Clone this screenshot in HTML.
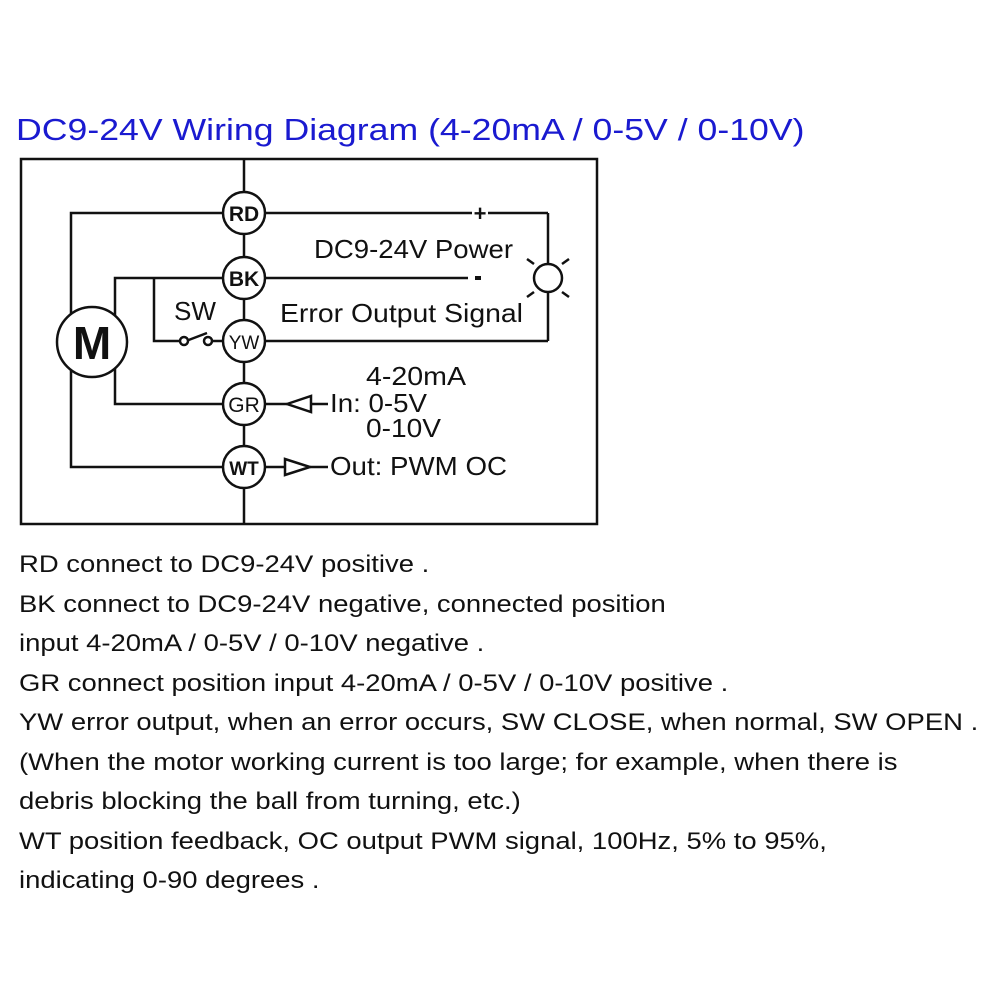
<!DOCTYPE html>
<html><head><style>
body{margin:0;background:#fff;width:1000px;height:1000px;position:relative;overflow:hidden;font-family:"Liberation Sans","DejaVu Sans",sans-serif}
.t{position:absolute;left:16px;top:112px;font-size:31px;color:#1a1ad0;white-space:nowrap;transform:scaleX(1.15);transform-origin:0 0}
.b{position:absolute;left:19px;top:545px;font-size:24.5px;line-height:39.5px;color:#111;white-space:nowrap;transform:scaleX(1.12);transform-origin:0 0}
</style></head><body>
<div class="t">DC9-24V Wiring Diagram (4-20mA / 0-5V / 0-10V)</div>
<svg width="1000" height="1000" style="position:absolute;left:0;top:0" font-family="Liberation Sans, DejaVu Sans, sans-serif">
<g stroke="#111" stroke-width="2.5" fill="none">
<rect x="21" y="159" width="576" height="365"/>
<line x1="244" y1="159" x2="244" y2="524"/>
<polyline points="223,213 71,213 71,467 223,467"/>
<polyline points="223,278 115,278 115,404 223,404"/>
<polyline points="154,278 154,341 180,341"/>
<line x1="186" y1="341" x2="207" y2="333"/>
<line x1="212" y1="341" x2="223" y2="341"/>
<circle cx="184" cy="341" r="4" fill="#fff"/>
<circle cx="208" cy="341" r="4" fill="#fff"/>
<line x1="265" y1="213" x2="472" y2="213"/>
<line x1="488" y1="213" x2="548" y2="213"/>
<line x1="265" y1="278" x2="468" y2="278"/>
<line x1="265" y1="341" x2="548" y2="341"/>
<line x1="548" y1="213" x2="548" y2="264"/>
<line x1="548" y1="292" x2="548" y2="341"/>
<circle cx="548" cy="278" r="14" fill="#fff"/>
<line x1="534" y1="264" x2="527" y2="259"/><line x1="562" y1="264" x2="569" y2="259"/>
<line x1="534" y1="292" x2="527" y2="297"/><line x1="562" y1="292" x2="569" y2="297"/>
<line x1="265" y1="404" x2="287" y2="404"/>
<polygon points="287,404 311,396 311,412"/>
<line x1="311" y1="404" x2="328" y2="404"/>
<line x1="265" y1="467" x2="285" y2="467"/>
<polygon points="285,459 285,475 310,467"/>
<line x1="310" y1="467" x2="328" y2="467"/>
<circle cx="92" cy="342" r="35" fill="#fff"/>
<circle cx="244" cy="213" r="21" fill="#fff"/>
<circle cx="244" cy="278" r="21" fill="#fff"/>
<circle cx="244" cy="341" r="21" fill="#fff"/>
<circle cx="244" cy="404" r="21" fill="#fff"/>
<circle cx="244" cy="467" r="21" fill="#fff"/>
</g>
<g fill="#111" font-size="21" text-anchor="middle">
<text x="244" y="221" font-weight="bold">RD</text>
<text x="244" y="286" font-weight="bold">BK</text>
<text x="244" y="349" font-size="19">YW</text>
<text x="244" y="412">GR</text>
<text x="244" y="475" font-weight="bold" font-size="19">WT</text>
<text x="92" y="359" font-size="46" font-weight="bold">M</text>
<text x="480" y="221" font-size="22" font-weight="bold">+</text>
<rect x="475" y="276" width="6" height="4"/>
</g>
<g fill="#111" font-size="26">
<text x="314" y="258" textLength="199" lengthAdjust="spacingAndGlyphs">DC9-24V Power</text>
<text x="280" y="322" textLength="243" lengthAdjust="spacingAndGlyphs">Error Output Signal</text>
<text x="174" y="320" textLength="42" lengthAdjust="spacingAndGlyphs">SW</text>
<text x="366" y="385" textLength="100" lengthAdjust="spacingAndGlyphs">4-20mA</text>
<text x="330" y="412" textLength="97" lengthAdjust="spacingAndGlyphs">In: 0-5V</text>
<text x="366" y="437" textLength="75" lengthAdjust="spacingAndGlyphs">0-10V</text>
<text x="330" y="475" textLength="177" lengthAdjust="spacingAndGlyphs">Out: PWM OC</text>
</g>
</svg>
<div class="b">RD connect to DC9-24V positive .<br>BK connect to DC9-24V negative, connected position<br>input 4-20mA / 0-5V / 0-10V negative .<br>GR connect position input 4-20mA / 0-5V / 0-10V positive .<br>YW error output, when an error occurs, SW CLOSE, when normal, SW OPEN .<br>(When the motor working current is too large; for example, when there is<br>debris blocking the ball from turning, etc.)<br>WT position feedback, OC output PWM signal, 100Hz, 5% to 95%,<br>indicating 0-90 degrees .</div>
</body></html>
